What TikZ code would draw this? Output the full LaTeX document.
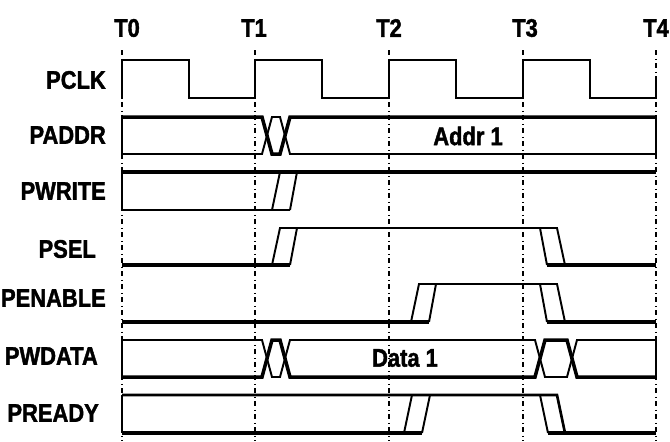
\documentclass[tikz,border=0pt]{standalone}
\usepackage{fontspec}
\setmainfont{Liberation Sans}[FakeStretch=0.86,BoldFeatures={FakeBold=1.6}]
\usetikzlibrary{positioning}

\begin{document}
\begin{tikzpicture}[x=0.02cm,y=-0.02cm,
		lbl/.style={anchor=east,font=\bfseries\fontsize{14.5}{16}\selectfont},
		tlbl/.style={font=\bfseries\fontsize{14.5}{16}\selectfont},
		grid/.style={dash dot,line width=0.6pt},
		sig/.style={line width=1.1pt,line join=miter},
		sigthick/.style={line width=2pt,line join=miter}]
		\useasboundingbox (0,0) rectangle (670,441);
		
		\foreach \x/\lx/\t in {122/127/T0,255/254/T1,389/389/T2,523/525/T3,656/656/T4}{
			\node[tlbl] (\t) at (\lx,28) {\t};
			\draw[grid] (\x,50) -- (\x,441);
		}
		
		\node[lbl] (pclk) at (112,80) {PCLK};
		\node[lbl] (paddr) at (112,135) {PADDR};
		\node[lbl] (pwrite) at (112,191) {PWRITE};
		\node[lbl] (psel) at (102,249) {PSEL};
		\node[lbl] (penable) at (112,298) {PENABLE};
		\node[lbl] (pwdata) at (104,356) {PWDATA};
		\node[lbl] (pready) at (105,413) {PREADY};
		
		\node[tlbl] (addr) at (468,136) {Addr 1};
		\node[tlbl] (data) at (405,358) {Data 1};
		
		\draw[sig,line width=1.5pt] (122,98) -- (122,60) -- (189,60) -- (189,98) -- (255,98) -- (255,60) -- (322,60) -- (322,98) -- (389,98) -- (389,60) -- (456,60) -- (456,98) -- (523,98) -- (523,60) -- (590,60) -- (590,98) -- (656,98) -- (656,80);
		
		\draw[sigthick] (122,117) -- (262,117) -- (272,154) -- (280,154) -- (290,117) -- (656,117);
		\draw[sig] (122,154) -- (262,154) -- (272,117) -- (280,117) -- (290,154) -- (656,154);
		\draw[sig] (122,117) -- (122,154);
		\draw[sig] (656,117) -- (656,154);
		
		\draw[sigthick] (122,172) -- (656,172);
		\draw[sig] (122,172) -- (122,210) -- (290,210);
		\draw[sig] (272,210) -- (280,172);
		\draw[sig] (290,210) -- (297,172);
		
		\draw[sigthick] (122,265) -- (290,265);
		\draw[sig] (272,265) -- (280,228) -- (557,228) -- (565,265);
		\draw[sig] (290,265) -- (297,228);
		\draw[sig] (540,228) -- (547,265);
		\draw[sigthick] (547,265) -- (656,265);
		
		\draw[sigthick] (122,322) -- (429,322);
		\draw[sig] (411,322) -- (419,284) -- (557,284) -- (565,322);
		\draw[sig] (429,322) -- (436,284);
		\draw[sig] (540,284) -- (547,322);
		\draw[sigthick] (547,322) -- (656,322);
		
		\draw[sig] (122,340) -- (262,340) -- (272,377) -- (280,377) -- (290,340) -- (535,340) -- (545,377) -- (567,377) -- (577,340) -- (656,340);
		\draw[sigthick] (122,377) -- (262,377) -- (272,340) -- (280,340) -- (290,377) -- (535,377) -- (545,340) -- (567,340) -- (577,377) -- (656,377);
		\draw[sig] (122,340) -- (122,377);
		\draw[sig] (656,340) -- (656,377);
		
		\draw[sig,line width=1.5pt] (122,395) -- (557,395) -- (565,433);
		\draw[sigthick] (122,433) -- (422,433);
		\draw[sig] (404,433) -- (412,395);
		\draw[sig] (422,433) -- (430,395);
		\draw[sig] (540,395) -- (548,433);
		\draw[sigthick] (548,433) -- (656,433);
		\draw[sig] (122,395) -- (122,433);
	\end{tikzpicture}
\end{document}
